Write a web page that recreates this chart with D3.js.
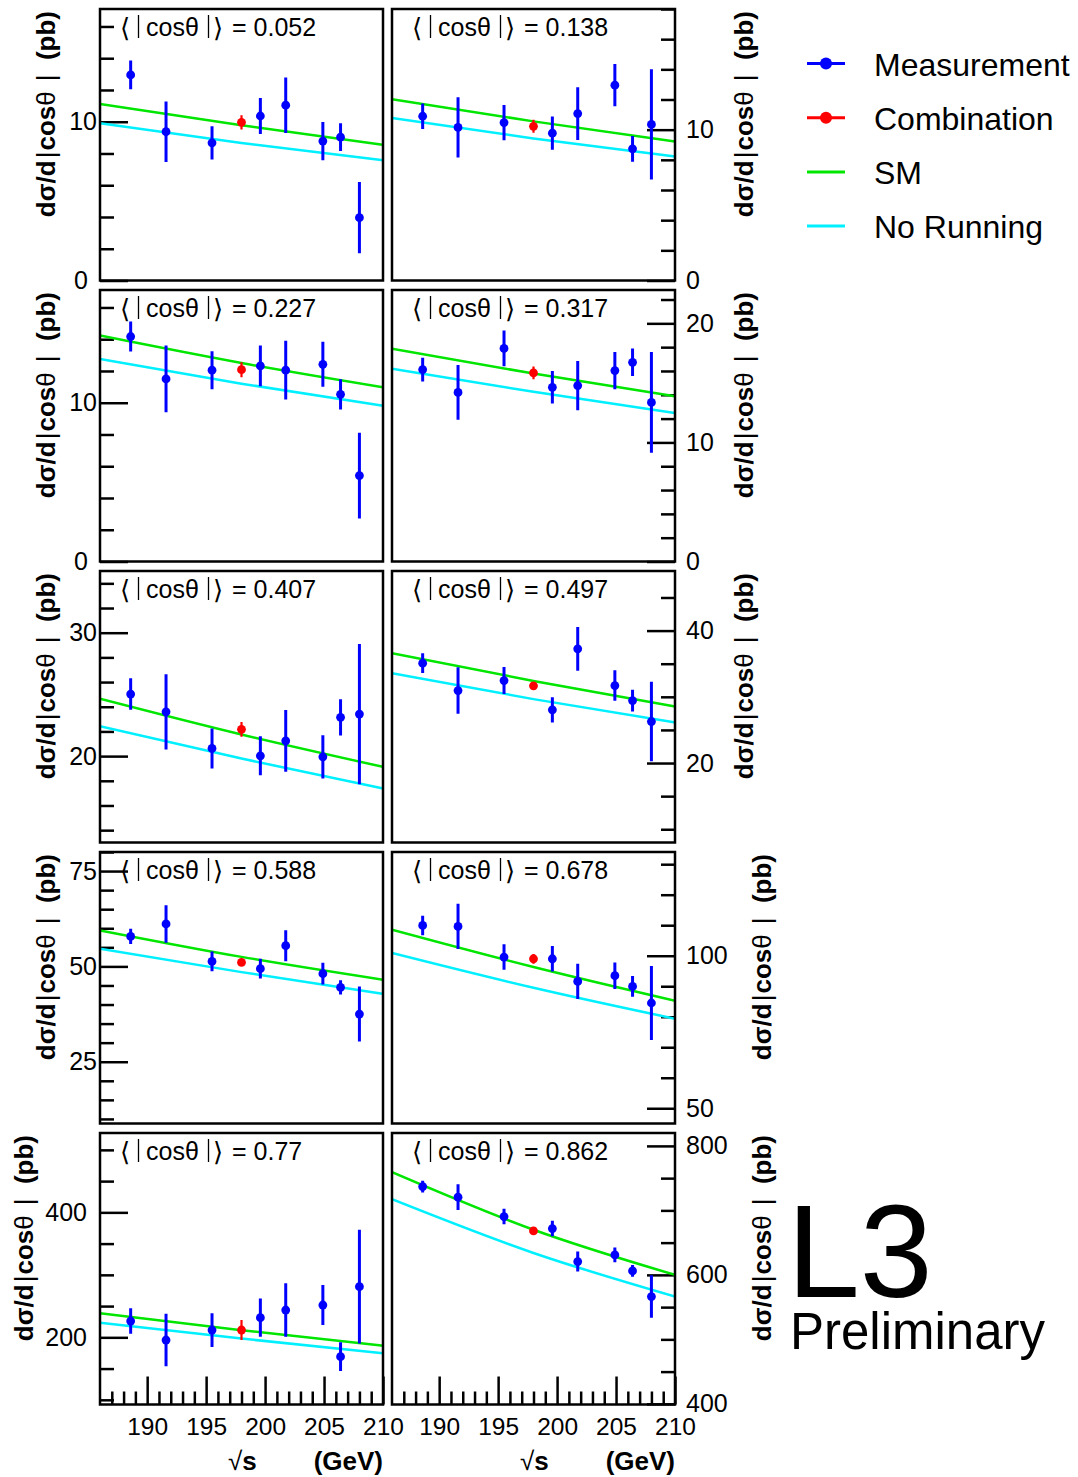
<!DOCTYPE html>
<html><head><meta charset="utf-8">
<script src="https://cdn.jsdelivr.net/npm/d3@7"></script>
<style>
body{margin:0;background:#fff}
svg{display:block}
text{font-family:"Liberation Sans",Arial,Helvetica,sans-serif}
</style>
</head><body>
<svg id="c" width="1078" height="1477"></svg>
<script>
// ---------------- data ----------------
const cosTheta = ["0.052","0.138","0.227","0.317","0.407","0.497","0.588","0.678","0.77","0.862"];
const energies = [188.6, 191.6, 195.5, 199.6, 201.75, 204.9, 206.4, 208.0];
const combEnergy = 198.0;
const curveEnergies = [186, 198, 210];
const measValues = [
  [12.95, 9.37, 8.67, 10.36, 11.04, 8.78, 9.03, 3.96],
  [10.89, 10.15, 10.47, 9.77, 11.07, 12.95, 8.73, 10.35],
  [14.17, 11.5, 12.05, 12.32, 12.05, 12.42, 10.53, 5.41],
  [16.12, 14.2, 17.89, 14.63, 14.77, 16.03, 16.73, 13.36],
  [25.03, 23.59, 20.62, 20.02, 21.24, 19.94, 23.14, 23.41],
  [35.08, 30.95, 32.46, 28.04, 37.24, 31.7, 29.44, 26.27],
  [57.87, 61.13, 51.31, 49.4, 55.43, 48.08, 44.49, 37.5],
  [109.93, 109.6, 99.57, 99.0, 91.58, 93.44, 89.93, 84.5],
  [226.1, 195.7, 211.7, 231.4, 243.7, 251.7, 169, 281],
  [736.9, 720.5, 690.4, 671.8, 620.6, 631, 606.2, 566.4]
];
const measErrors = [
  [0.9, 1.9, 1.05, 1.14, 1.75, 1.2, 0.87, 2.25],
  [0.85, 2.0, 1.17, 1.1, 1.75, 1.4, 0.85, 3.65],
  [0.95, 2.1, 1.2, 1.28, 1.85, 1.42, 0.95, 2.7],
  [1.0, 2.3, 1.5, 1.36, 2.07, 1.56, 1.16, 4.23],
  [1.28, 3.05, 1.62, 1.58, 2.5, 1.75, 1.47, 5.68],
  [1.5, 3.5, 2.05, 1.9, 3.3, 2.3, 1.64, 6.0],
  [2.0, 4.9, 2.6, 2.6, 4.05, 2.85, 1.85, 7.2],
  [3.2, 7.4, 4.2, 4.2, 5.8, 4.35, 3.4, 12.1],
  [20.5, 42, 27, 30.6, 42.7, 32, 23, 91],
  [9, 20, 12, 12, 15.5, 11.6, 9, 33]
];
const combValues = [9.96, 10.22, 12.08, 15.84, 22.17, 31.66, 51.05, 99.0, 211.7, 668.2];
const combErrors = [0.45, 0.43, 0.47, 0.53, 0.6, 0.5, 0.8, 1.6, 16, 3];
const smCurve = [
  [11.12, 9.78, 8.55],
  [12.02, 10.55, 9.22],
  [14.23, 12.5, 10.97],
  [17.86, 15.78, 13.87],
  [24.65, 21.75, 19.13],
  [36.59, 32.4, 28.54],
  [59.45, 52.5, 46.51],
  [108.52, 96.3, 85.25],
  [238.4, 211.5, 186.6],
  [759.2, 670, 600]
];
const noRunCurve = [
  [9.9, 8.66, 7.58],
  [10.77, 9.42, 8.22],
  [12.76, 11.2, 9.81],
  [16.18, 14.25, 12.46],
  [22.43, 19.8, 17.38],
  [33.57, 29.65, 26.12],
  [54.65, 48.5, 42.83],
  [100.9, 89.5, 79.34],
  [223.4, 198.0, 174.4],
  [717.4, 634, 566.4]
];
const yRanges = [[0,17.1],[0,18],[0,17.1],[0,22.8],[13,35],[8,49],[8.8,80],[45,134],[92.5,527],[399,820]];
const yTickLabels = [[0,10],[0,10],[0,10],[0,10,20],[20,30],[20,40],[25,50,75],[50,100],[200,400],[400,600,800]];
const yMinorStep = [2,2,2,2,2,5,5,10,50,50];
const xTickLabels = [190,195,200,205,210];
const xDomain = [186, 210];
const legendLabels = ["Measurement","Combination","SM","No Running"];

// ---------------- style ----------------
const BLUE = "#0000ff", RED = "#ff0000", GREEN = "#00e600", CYAN = "#00f0ff";
const colX = [100, 392], PW = 283, PH = 271.5;
const rowTop = r => 9 + r * 281;

const svg = d3.select("#c");
const defs = svg.append("defs");

cosTheta.forEach((lab, i) => {
  const col = i % 2, row = Math.floor(i / 2);
  const x0 = colX[col], y0 = rowTop(row);
  const x = d3.scaleLinear().domain(xDomain).range([x0, x0 + PW]);
  const y = d3.scaleLinear().domain(yRanges[i]).range([y0 + PH, y0]);
  const g = svg.append("g");
  const cid = "clip" + i;
  defs.append("clipPath").attr("id", cid).append("rect")
    .attr("x", x0).attr("y", y0).attr("width", PW).attr("height", PH);

  // y ticks
  const [lo, hi] = yRanges[i];
  const st = yMinorStep[i];
  const minors = d3.range(Math.ceil(lo / st) * st, hi + 1e-9, st).filter(v => !yTickLabels[i].includes(v));
  const axMinor = (col === 0 ? d3.axisLeft(y) : d3.axisRight(y))
    .tickValues(minors).tickSizeInner(-14).tickSizeOuter(0).tickFormat("");
  const axMajor = (col === 0 ? d3.axisLeft(y) : d3.axisRight(y))
    .tickValues(yTickLabels[i]).tickSizeInner(-28).tickSizeOuter(0).tickPadding(col === 0 ? 3 : 11)
    .tickFormat(d3.format("d"));
  const axX = col === 0 ? x0 : x0 + PW;
  [axMinor, axMajor].forEach(ax => {
    const a = g.append("g").attr("transform", `translate(${axX},0)`).call(ax);
    a.select(".domain").remove();
    a.selectAll("line").attr("stroke", "#000").attr("stroke-width", 2.5);
    a.selectAll("text").attr("font-size", 25).attr("font-family", "Liberation Sans, Arial, sans-serif").attr("fill", "#000");
  });
  if (col === 0) {
    g.selectAll("text").filter(function(){ return this.textContent.length > 0; })
      .attr("x", function(){ const n = this.textContent.length; return n === 1 ? -12 : (n === 3 ? -13 : -3); });
  }

  // x ticks (bottom row only)
  if (row === 4) {
    const minorX = d3.range(187, 210).filter(v => !xTickLabels.includes(v));
    const axm = g.append("g").attr("transform", `translate(0,${y0 + PH})`)
      .call(d3.axisBottom(x).tickValues(minorX).tickSizeInner(-13).tickSizeOuter(0).tickFormat(""));
    const axM = g.append("g").attr("transform", `translate(0,${y0 + PH})`)
      .call(d3.axisBottom(x).tickValues(xTickLabels).tickSizeInner(-28).tickSizeOuter(0).tickPadding(13).tickFormat(d3.format("d")));
    [axm, axM].forEach(a => {
      a.select(".domain").remove();
      a.selectAll("line").attr("stroke", "#000").attr("stroke-width", 2.5);
      a.selectAll("text").attr("font-size", 24.5).attr("font-family", "Liberation Sans, Arial, sans-serif").attr("fill", "#000");
    });
    // x title
    const xt = g.append("text").attr("y", 1470).attr("font-size", 26).attr("fill", "#000");
    xt.append("tspan").attr("x", x0 + 128).attr("font-weight", "normal").text("√");
    xt.append("tspan").attr("font-weight", "bold").text("s");
    g.append("text").attr("x", x0 + PW).attr("y", 1470).attr("text-anchor", "end")
      .attr("font-size", 26).attr("font-weight", "bold").attr("fill", "#000").text("(GeV)");
  }

  // curves
  const line = d3.line().x((d, k) => x(curveEnergies[k])).y(d => y(d)).curve(d3.curveNatural);
  g.append("path").datum(noRunCurve[i]).attr("d", line).attr("fill", "none")
    .attr("stroke", CYAN).attr("stroke-width", 2.5).attr("clip-path", `url(#${cid})`);
  g.append("path").datum(smCurve[i]).attr("d", line).attr("fill", "none")
    .attr("stroke", GREEN).attr("stroke-width", 2.5).attr("clip-path", `url(#${cid})`);

  // measurements
  const pts = energies.map((e, k) => ({e, v: measValues[i][k], err: measErrors[i][k]}));
  const mg = g.append("g").attr("clip-path", `url(#${cid})`);
  mg.selectAll("line.eb").data(pts).join("line").attr("class", "eb")
    .attr("x1", d => x(d.e)).attr("x2", d => x(d.e))
    .attr("y1", d => y(d.v - d.err)).attr("y2", d => y(d.v + d.err))
    .attr("stroke", BLUE).attr("stroke-width", 3);
  mg.selectAll("circle.m").data(pts).join("circle").attr("class", "m")
    .attr("cx", d => x(d.e)).attr("cy", d => y(d.v)).attr("r", 4.4).attr("fill", BLUE);
  // combination
  mg.append("line").attr("x1", x(combEnergy)).attr("x2", x(combEnergy))
    .attr("y1", y(combValues[i] - combErrors[i])).attr("y2", y(combValues[i] + combErrors[i]))
    .attr("stroke", RED).attr("stroke-width", 2.2);
  mg.append("circle").attr("cx", x(combEnergy)).attr("cy", y(combValues[i])).attr("r", 4.4).attr("fill", RED);

  // frame
  g.append("rect").attr("x", x0).attr("y", y0).attr("width", PW).attr("height", PH)
    .attr("fill", "none").attr("stroke", "#000").attr("stroke-width", 2.5);

  // panel label  <|cosθ|> = value
  const ty = y0 + 27;
  const t = g.append("text").attr("y", ty).attr("font-size", 25).attr("fill", "#000");
  t.append("tspan").attr("x", x0 + 20).attr("dy", 1).attr("font-family", "DejaVu Sans, sans-serif").attr("font-size", 26).text("⟨");
  t.append("tspan").attr("x", x0 + 46).attr("dy", -1).text("cosθ");
  t.append("tspan").attr("x", x0 + 113).attr("dy", 1).attr("font-family", "DejaVu Sans, sans-serif").attr("font-size", 26).text("⟩");
  t.append("tspan").attr("x", x0 + 132).attr("dy", -1).text("= " + lab);
  [38.5, 108.5].forEach(dx => {
    g.append("line").attr("x1", x0 + dx).attr("x2", x0 + dx).attr("y1", y0 + 6).attr("y2", y0 + 29)
      .attr("stroke", "#000").attr("stroke-width", 1.3);
  });

  // y title
  const tx = col === 0 ? (row < 4 ? 55 : 33) : (row < 3 ? 753 : 771);
  const yt = g.append("text").attr("transform", `translate(${tx},${y0 + 2}) rotate(-90)`)
    .attr("text-anchor", "end").attr("font-size", 26).attr("fill", "#000");
  yt.append("tspan").attr("font-weight", "bold").text("dσ/d");
  yt.append("tspan").attr("font-weight", "normal").attr("dx", 2).text("|");
  yt.append("tspan").attr("font-weight", "bold").attr("dx", 1).text("cos");
  yt.append("tspan").attr("font-weight", "normal").text("θ");
  yt.append("tspan").attr("font-weight", "normal").attr("dx", 10).text("|");
  yt.append("tspan").attr("font-weight", "bold").text("\u00a0\u00a0(pb)");
});

// legend
const lg = svg.append("g");
const legColors = [BLUE, RED, GREEN, CYAN];
legendLabels.forEach((lab, k) => {
  const ly = 63.5 + k * 54.2;
  lg.append("line").attr("x1", 807).attr("x2", 845).attr("y1", ly).attr("y2", ly)
    .attr("stroke", legColors[k]).attr("stroke-width", 3);
  if (k < 2) lg.append("circle").attr("cx", 826).attr("cy", ly).attr("r", 6).attr("fill", legColors[k]);
  lg.append("text").attr("x", 874).attr("y", ly + 12).attr("font-size", 32).attr("fill", "#000").text(lab);
});

// L3 Preliminary
svg.append("text").attr("x", 787).attr("y", 1297).attr("font-size", 131).attr("fill", "#000").text("L3");
svg.append("text").attr("x", 790).attr("y", 1349).attr("font-size", 51).attr("fill", "#000").text("Preliminary");
</script>
</body></html>
